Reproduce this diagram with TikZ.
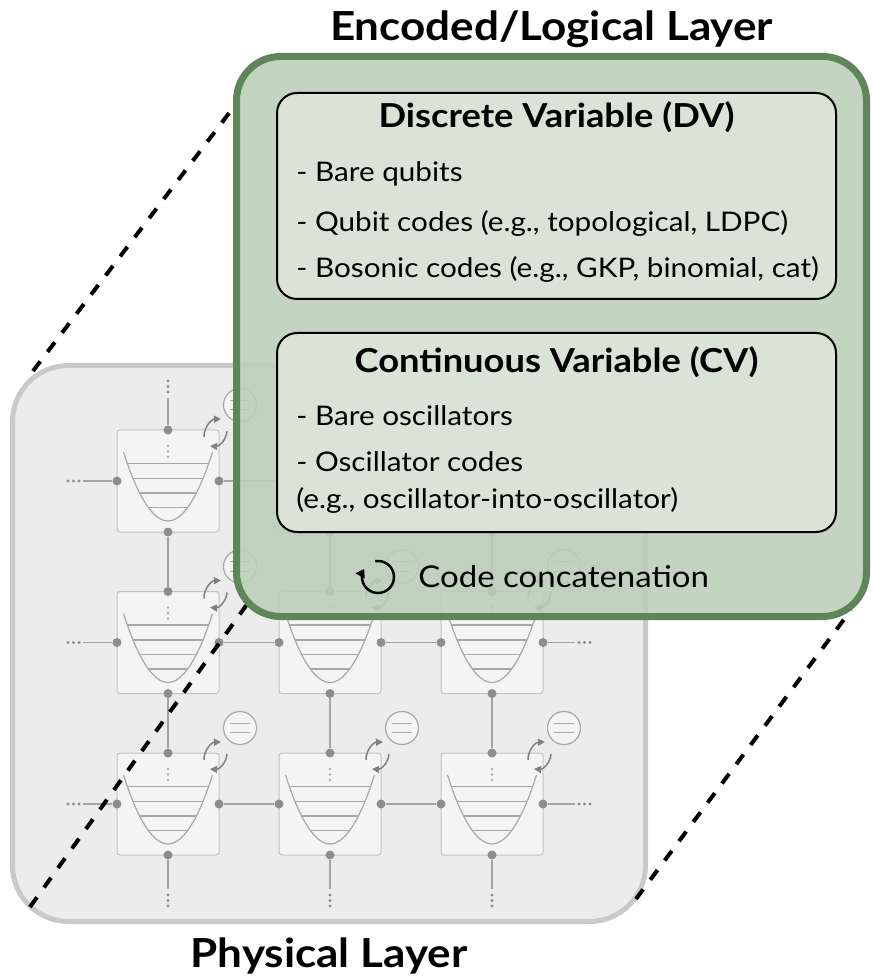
\documentclass[tikz,border=0pt]{standalone}
\usepackage{fontspec}
\setmainfont{Lato}[FakeStretch=1.1]
\usetikzlibrary{arrows.meta}

\definecolor{physfill}{RGB}{236,236,236}
\definecolor{physedge}{RGB}{201,201,201}
\definecolor{boxfill}{RGB}{244,244,244}
\definecolor{boxedge}{RGB}{194,194,194}
\definecolor{portgray}{RGB}{141,141,141}
\definecolor{wiregray}{RGB}{163,163,163}
\definecolor{levelgray}{RGB}{168,168,168}
\definecolor{greenedge}{RGB}{95,133,91}
\definecolor{greenfill}{RGB}{187,206,183}
\definecolor{innerfill}{RGB}{217,227,214}

\begin{document}
\begin{tikzpicture}[x=0.5pt, y=-0.5pt,
    port/.style={circle, fill=portgray, inner sep=0pt, minimum size=4.5pt},
    wire/.style={draw=wiregray, line width=0.75pt},
    level/.style={draw=levelgray, line width=0.6pt},
    modbox/.style={draw=boxedge, fill=boxfill, line width=0.5pt, rounded corners=1.5pt},
    eqcirc/.style={circle, draw=levelgray, fill=boxfill, line width=0.6pt, inner sep=0pt, minimum size=16.5pt},
    swap/.style={draw=gray, line width=0.75pt, -{Triangle[length=3.5pt, width=3.5pt]}},
    zoomline/.style={line width=2pt, dash pattern=on 6pt off 6pt},
    titlefont/.style={font=\bfseries\fontsize{20}{24}\selectfont},
    headfont/.style={font=\bfseries\fontsize{16.5}{20}\selectfont},
    itemfont/.style={font=\fontsize{13.5}{16}\selectfont},
    every node/.style={inner sep=0pt}]
    \useasboundingbox (0,0) rectangle (872,977);

    % physical layer: 3x3 grid of oscillators
    \draw[line width=2.5pt, draw=physedge, fill=physfill, rounded corners=28pt]
        (12.5,365.5) rectangle (645.5,921.5);
    \foreach \i/\cx in {1/168, 2/330, 3/492} {
        \foreach \j/\cy in {1/481, 2/642.5, 3/804} {
            \draw[modbox] (\cx-51,\cy-51) rectangle (\cx+51,\cy+51);
            \draw[level] (\cx-44.5,\cy-29) parabola bend (\cx,\cy+40) (\cx+44.5,\cy-29);
            \foreach \dy/\w in {-17.5/40.6, -2.5/34.9, 12/28.3, 26.5/19.7}
                \draw[level] (\cx-\w,\cy+\dy) -- (\cx+\w,\cy+\dy);
            \foreach \dy in {-35, -29.5, -24}
                \fill[levelgray] (\cx,\cy+\dy) circle (1.4);
            \node[port] (t\i\j) at (\cx,\cy-51) {};
            \node[port] (b\i\j) at (\cx,\cy+51) {};
            \node[port] (l\i\j) at (\cx-51,\cy) {};
            \node[port] (r\i\j) at (\cx+51,\cy) {};
            % measurement bubble and swap arrows
            \node[eqcirc] (q\i\j) at (\cx+72,\cy-76) {};
            \draw[level] (q\i\j.center) ++(-10,-4.7) -- ++(20,0);
            \draw[level] (q\i\j.center) ++(-10,4.7) -- ++(20,0);
            \draw[swap] (\cx+36,\cy-44) to[bend left=45] (\cx+53,\cy-62);
            \draw[swap] (\cx+59,\cy-50) to[bend left=45] (\cx+42,\cy-35);
        }
    }
    % couplings
    \foreach \i/\k in {1/2, 2/3}
        \foreach \j in {1,2,3} {
            \draw[wire] (r\i\j) -- (l\k\j);
            \draw[wire] (b\j\i) -- (t\j\k);
        }
    % open ends of the lattice
    \foreach \j/\cy in {1/481, 2/642.5, 3/804} {
        \coordinate (lend\j) at (83,\cy);
        \coordinate (rend\j) at (575,\cy);
        \draw[wire] (l1\j) -- (lend\j);
        \draw[wire] (r3\j) -- (rend\j);
        \foreach \d in {4, 9.5, 15} {
            \fill[portgray] ([xshift=-\d*0.5pt]lend\j) circle (1.6);
            \fill[portgray] ([xshift=\d*0.5pt]rend\j) circle (1.6);
        }
    }
    \foreach \i/\cx in {1/168, 2/330, 3/492} {
        \coordinate (tend\i) at (\cx,398);
        \coordinate (bend\i) at (\cx,889);
        \draw[wire] (t\i1) -- (tend\i);
        \draw[wire] (b\i3) -- (bend\i);
        \foreach \d in {6, 11.5, 17} {
            \fill[portgray] ([yshift=\d*0.5pt]tend\i) circle (1.6);
            \fill[portgray] ([yshift=-\d*0.5pt]bend\i) circle (1.6);
        }
    }

    % zoom lines between the two layers
    \coordinate (ptl) at (33,371);
    \coordinate (pbl) at (30,907);
    \coordinate (pbr) at (636,899);
    \coordinate (gtl) at (236,104);
    \coordinate (gbl) at (248,603);
    \coordinate (gbr) at (851,610);
    \draw[zoomline] (ptl) -- (gtl);
    \draw[zoomline] (pbl) -- (gbl);
    \draw[zoomline] (pbr) -- (gbr);

    % encoded layer
    \draw[line width=3.5pt, draw=greenedge, fill=greenfill, fill opacity=0.88, rounded corners=22pt]
        (236.5,56.5) rectangle (866.5,616.5);
    \draw[line width=1pt, fill=innerfill, rounded corners=10pt] (277,93) rectangle (836,299);
    \draw[line width=1pt, fill=innerfill, rounded corners=10pt] (277,333) rectangle (836,532);

    \node[titlefont, anchor=base] (enc) at (551.5,41) {Encoded/Logical Layer};
    \node[headfont, anchor=base] (dv) at (556.5,128) {Discrete Variable (DV)};
    \node[itemfont, anchor=base west] (dva) at (296,182) {- Bare qubits};
    \node[itemfont, anchor=base west] (dvb) at (296,232) {- Qubit codes (e.g., topological, LDPC)};
    \node[itemfont, anchor=base west] (dvc) at (296,278) {- Bosonic codes (e.g., GKP, binomial, cat)};
    \node[headfont, anchor=base] (cv) at (556.5,373) {Continuous Variable (CV)};
    \node[itemfont, anchor=base west] (cva) at (296,426) {- Bare oscillators};
    \node[itemfont, anchor=base west] (cvb) at (296,471) {- Oscillator codes};
    \node[itemfont, anchor=base west] (cvc) at (296,508) {(e.g., oscillator-into-oscillator)};

    \coordinate (loop) at (378,577);
    \draw[line width=1.25pt, -{Triangle[length=4pt, width=5pt]}]
        (loop) ++(-100:16) arc[start angle=-100, end angle=210, radius=16];
    \node[font=\fontsize{15}{18}\selectfont, anchor=base west] (concat) at (418,587) {Code concatenation};

    \node[titlefont, anchor=base] (phys) at (329,967) {Physical Layer};
\end{tikzpicture}
\end{document}
